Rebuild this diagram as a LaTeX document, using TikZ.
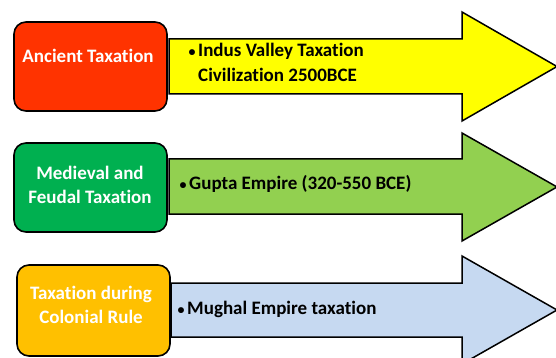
\documentclass[tikz,border=0pt]{standalone}
\usepackage{fontspec}
\setmainfont{Carlito}[Ligatures=NoCommon]
\definecolor{stagered}{HTML}{FF3300}
\definecolor{stagegreen}{HTML}{00B050}
\definecolor{stageorange}{HTML}{FFC000}
\definecolor{arrowyellow}{HTML}{FFFF00}
\definecolor{arrowgreen}{HTML}{92D050}
\definecolor{arrowblue}{HTML}{C6D9F1}
\newcommand\itembullet{\llap{{\fontsize{14}{14}\selectfont •}\hspace{2.5pt}}}
\begin{document}
\begin{tikzpicture}[x=1pt,y=-1pt,
  stage/.style={draw=black, line width=1.6pt, rounded corners=12pt, inner sep=0pt},
  blockarrow/.style={draw=black, line width=1.5pt, line join=miter},
  stagetext/.style={text=white, font=\bfseries\fontsize{19}{24}\selectfont, align=center, inner sep=0pt, anchor=base},
  itemtext/.style={text=black, font=\bfseries\fontsize{19}{25}\selectfont, align=left, inner sep=0pt, anchor=base west}]
\useasboundingbox (0,0) rectangle (556,358);

% block arrows: body, then head ending at the right edge
\coordinate (tipA) at (557,66.5);
\coordinate (tipB) at (557,187);
\coordinate (tipC) at (557,310);
\fill[arrowyellow] (169,39) -- (462,39) -- (462,12) -- (tipA) -- (462,121) -- (462,94) -- (169,94) -- cycle;
\draw[blockarrow] (169,39) -- (462,39) -- (462,12) -- (tipA) -- (462,121) -- (462,94) -- (169,94) -- cycle;
\fill[arrowgreen] (169,159) -- (462,159) -- (462,133) -- (tipB) -- (462,241) -- (462,214) -- (169,214) -- cycle;
\draw[blockarrow] (169,159) -- (462,159) -- (462,133) -- (tipB) -- (462,241) -- (462,214) -- (169,214) -- cycle;
\fill[arrowblue] (171,283) -- (462,283) -- (462,256) -- (tipC) -- (462,364) -- (462,337) -- (171,337) -- cycle;
\draw[blockarrow] (171,283) -- (462,283) -- (462,256) -- (tipC) -- (462,364) -- (462,337) -- (171,337) -- cycle;

% stage boxes
\node[stage, fill=stagered, minimum width=153, minimum height=89] (ancient) at (90.5,66.5) {};
\node[stage, fill=stagegreen, minimum width=153, minimum height=89] (medieval) at (90.5,187.5) {};
\node[stage, fill=stageorange, minimum width=153, minimum height=91] (colonial) at (93.5,310.5) {};

% labels (base anchor sits on the last line)
\node[stagetext] (ancientlabel) at (88,63) {Ancient Taxation};
\node[stagetext] (medievallabel) at (90,203) {Medieval and\\Feudal Taxation};
\node[stagetext] (coloniallabel) at (91,323) {Taxation during\\Colonial Rule};

% bulleted items on the arrows
\node[itemtext] (indus) at (198,82) {\itembullet Indus Valley Taxation\\Civilization 2500BCE};
\node[itemtext] (gupta) at (189,189) {\itembullet Gupta Empire (320-550 BCE)};
\node[itemtext] (mughal) at (187,314) {\itembullet Mughal Empire taxation};
\end{tikzpicture}
\end{document}
